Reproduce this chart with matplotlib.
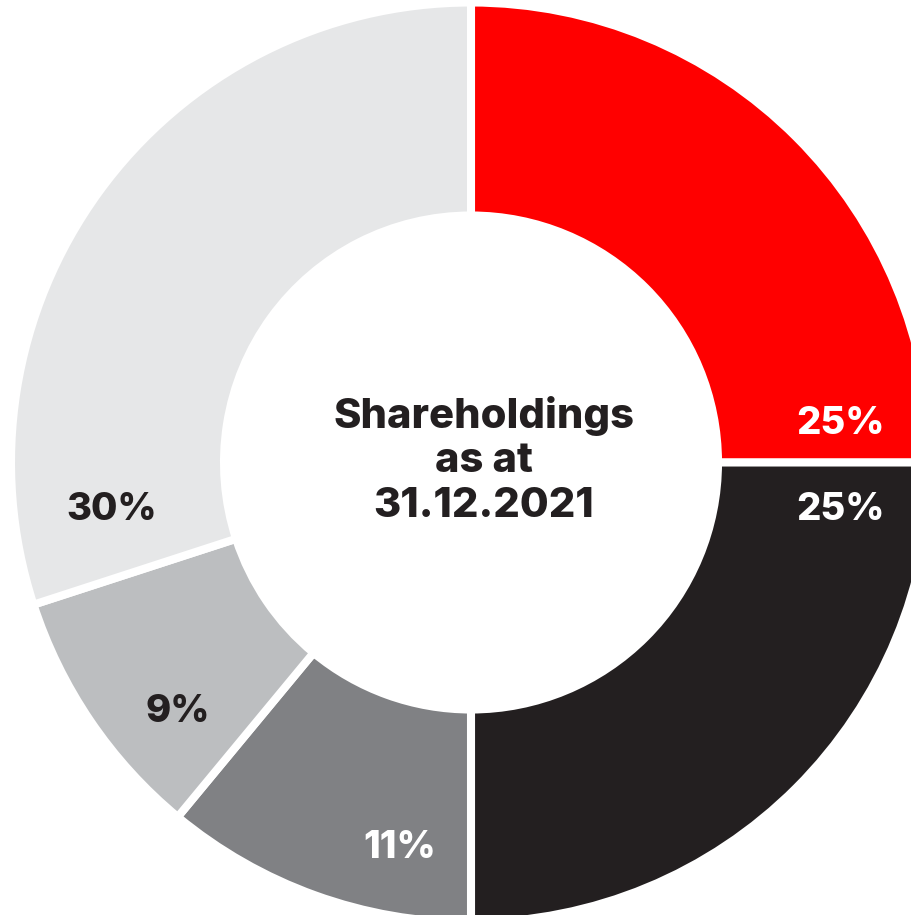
import matplotlib
matplotlib.use("Agg")
import matplotlib.pyplot as plt

# Shareholdings as at 31.12.2021
shares = [25, 25, 11, 9, 30]
labels = ["25%", "25%", "11%", "9%", "30%"]
colors = ["#FF0000", "#231F20", "#808184", "#BCBEC0", "#E6E7E8"]
text_colors = ["white", "white", "white", "#231F20", "#231F20"]

# label offsets from the donut centre (pixels, y up)
label_offsets = [(370, 39), (370, -48), (-71, -386), (-293, -250), (-359, -48)]

W, H = 912, 915
cx, cy = 471, H - 462.5

fig = plt.figure(figsize=(W / 100, H / 100), dpi=100)
ax = fig.add_axes([0, 0, 1, 1])

ax.pie(shares, colors=colors, startangle=90, counterclock=False,
       center=(cx, cy), radius=460,
       wedgeprops=dict(width=213, edgecolor="white", linewidth=5.8))

ax.set_xlim(0, W)
ax.set_ylim(0, H)
ax.set_aspect("equal")
ax.axis("off")

for lab, col, (dx, dy) in zip(labels, text_colors, label_offsets):
    ax.text(cx + dx, cy + dy, lab, color=col, fontsize=27.5, fontweight=800,
            family="Inter", ha="center", va="center")

# centre title sits slightly right of the donut centre in the original
ax.text(cx + 13, cy + 2, "Shareholdings\nas at\n31.12.2021", color="#231F20",
        fontsize=30, fontweight=800, family="Inter",
        ha="center", va="center", linespacing=1.22)

fig.savefig("out.png", dpi=100)
